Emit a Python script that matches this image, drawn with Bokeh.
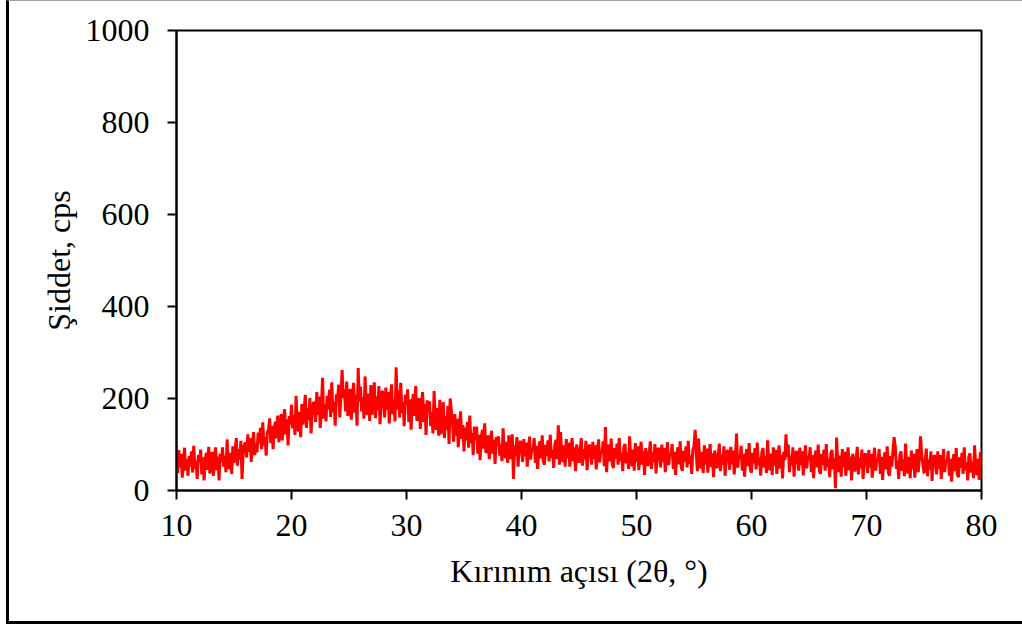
import numpy as np
from bokeh.plotting import figure
from bokeh.models import Range1d, FixedTicker, ColumnDataSource
from bokeh.embed import file_html
from bokeh.resources import INLINE

# scan settings (2-theta, degrees)
scan_start = 10.0
scan_step = 0.1

# intensity (cps), one row per degree
intensity = [
    70, 38, 88, 50, 80, 28, 63, 93, 43, 68,
    32, 75, 52, 85, 39, 97, 47, 65, 25, 77,
    62, 89, 35, 72, 22, 67, 82, 45, 95, 37,
    50, 84, 32, 66, 94, 44, 74, 22, 80, 62,
    94, 52, 76, 40, 111, 60, 46, 82, 36, 96,
    60, 86, 114, 54, 90, 68, 108, 25, 82, 100,
    104, 72, 122, 84, 114, 62, 97, 127, 77, 102,
    83, 126, 103, 136, 90, 148, 98, 116, 76, 128,
    130, 157, 103, 140, 90, 135, 150, 113, 163, 105,
    129, 166, 109, 147, 177, 122, 155, 98, 162, 142,
    186, 135, 164, 121, 206, 145, 128, 171, 116, 188,
    143, 175, 208, 136, 179, 153, 201, 124, 170, 191,
    191, 149, 214, 165, 204, 136, 182, 245, 156, 188,
    150, 206, 176, 219, 160, 235, 170, 193, 141, 209,
    195, 230, 159, 208, 262, 201, 220, 172, 237, 162,
    177, 221, 154, 198, 234, 169, 208, 141, 266, 193,
    226, 172, 203, 156, 248, 182, 164, 211, 151, 229,
    165, 198, 235, 157, 204, 175, 227, 144, 193, 217,
    201, 159, 224, 175, 214, 146, 192, 231, 166, 198,
    150, 268, 176, 218, 159, 234, 169, 192, 140, 208,
    185, 220, 149, 198, 132, 191, 210, 162, 227, 152,
    157, 201, 134, 178, 214, 149, 188, 121, 196, 173,
    194, 140, 171, 124, 216, 150, 132, 179, 119, 197,
    122, 155, 192, 114, 161, 132, 184, 101, 200, 174,
    144, 106, 166, 120, 156, 94, 136, 172, 112, 142,
    85, 137, 109, 149, 93, 163, 103, 125, 77, 139,
    110, 139, 80, 121, 66, 115, 132, 91, 146, 82,
    86, 120, 68, 102, 130, 80, 110, 58, 116, 98,
    118, 76, 100, 64, 135, 84, 70, 106, 60, 120,
    68, 94, 122, 25, 98, 76, 116, 52, 90, 108,
    94, 62, 112, 74, 104, 52, 87, 117, 67, 92,
    87, 114, 60, 97, 47, 92, 107, 70, 120, 62,
    56, 99, 76, 109, 63, 121, 71, 89, 49, 101,
    110, 68, 142, 56, 127, 76, 62, 98, 52, 112,
    70, 104, 52, 86, 114, 64, 94, 42, 100, 82,
    60, 86, 114, 54, 90, 68, 108, 44, 82, 100,
    88, 56, 106, 68, 98, 46, 81, 111, 61, 86,
    80, 107, 53, 138, 40, 85, 100, 63, 113, 55,
    49, 92, 69, 102, 56, 114, 64, 82, 42, 94,
    101, 59, 83, 47, 118, 67, 53, 89, 43, 103,
    62, 96, 44, 78, 106, 56, 86, 34, 92, 74,
    53, 79, 107, 47, 83, 61, 101, 37, 75, 93,
    82, 50, 100, 62, 92, 40, 75, 105, 55, 80,
    74, 101, 47, 84, 34, 79, 94, 57, 107, 49,
    43, 86, 63, 96, 50, 108, 58, 76, 36, 88,
    96, 132, 78, 42, 113, 62, 48, 84, 38, 98,
    57, 91, 39, 73, 101, 51, 81, 29, 87, 69,
    48, 74, 102, 42, 78, 56, 96, 32, 70, 88,
    77, 45, 95, 57, 87, 35, 70, 124, 50, 75,
    70, 97, 43, 80, 30, 75, 90, 53, 103, 45,
    39, 82, 59, 92, 46, 104, 54, 72, 32, 84,
    92, 50, 74, 38, 109, 58, 44, 80, 34, 94,
    54, 88, 36, 70, 98, 48, 78, 26, 84, 66,
    122, 72, 100, 40, 76, 54, 94, 30, 68, 86,
    75, 43, 93, 55, 85, 33, 68, 98, 48, 73,
    67, 94, 40, 77, 27, 72, 87, 50, 100, 42,
    36, 79, 56, 89, 43, 101, 51, 69, 29, 81,
    88, 46, 70, 5, 115, 54, 40, 76, 30, 90,
    50, 84, 32, 66, 94, 44, 74, 22, 80, 62,
    41, 67, 95, 35, 71, 49, 89, 25, 63, 81,
    70, 38, 88, 50, 80, 28, 63, 93, 43, 68,
    63, 90, 36, 73, 23, 68, 83, 46, 96, 38,
    32, 75, 52, 85, 116, 97, 47, 65, 25, 77,
    85, 43, 67, 31, 102, 51, 37, 73, 27, 87,
    46, 80, 28, 62, 90, 40, 70, 118, 76, 58,
    37, 63, 91, 31, 67, 45, 85, 21, 59, 77,
    67, 35, 85, 47, 77, 25, 60, 90, 40, 65,
    59, 86, 32, 69, 19, 64, 79, 42, 92, 34,
    29, 72, 49, 82, 36, 94, 44, 62, 22, 74,
    81, 39, 63, 27, 98, 47, 33, 69, 23, 83,
    55,
]

x_ticks = [10, 20, 30, 40, 50, 60, 70, 80]
y_ticks = [0, 200, 400, 600, 800, 1000]
x_title = "Kırınım açısı (2θ, °)"
y_title = "Şiddet, cps"

two_theta = scan_start + scan_step * np.arange(len(intensity))
src = ColumnDataSource(dict(x=two_theta, y=intensity))

FONT = "Liberation Serif"

p = figure(frame_width=805, frame_height=460,
           x_range=Range1d(10, 80), y_range=Range1d(0, 1000),
           min_border_left=176, min_border_right=41,
           min_border_top=30, min_border_bottom=137,
           output_backend="svg", toolbar_location=None)

p.line("x", "y", source=src, line_color="#ff0000", line_width=3)

p.xgrid.visible = False
p.ygrid.visible = False
p.outline_line_color = "black"
p.outline_line_width = 2
p.background_fill_color = "white"
p.border_fill_color = "white"

p.xaxis.ticker = FixedTicker(ticks=x_ticks)
p.yaxis.ticker = FixedTicker(ticks=y_ticks)
p.xaxis.axis_label = x_title
p.yaxis.axis_label = y_title

for ax in (p.xaxis, p.yaxis):
    ax.axis_line_color = "black"
    ax.axis_line_width = 2
    ax.major_tick_line_color = "black"
    ax.major_tick_line_width = 2
    ax.major_tick_out = 9
    ax.major_tick_in = 0
    ax.minor_tick_line_color = None
    ax.major_label_text_font = FONT
    ax.major_label_text_font_size = "32px"
    ax.major_label_text_color = "black"
    ax.axis_label_text_font = FONT
    ax.axis_label_text_font_size = "32px"
    ax.axis_label_text_font_style = "normal"
    ax.axis_label_text_color = "black"

p.yaxis.major_label_standoff = 18
p.yaxis.axis_label_standoff = 6
p.xaxis.major_label_standoff = 15
p.xaxis.axis_label_standoff = 14

html = file_html(p, INLINE)
# outer chart-area frame (decorative page border, as in the exported chart)
frame_css = ('<div style="position:fixed;left:6px;top:0;width:1100px;height:624px;'
             'box-sizing:border-box;border-left:3px solid #000;'
             'border-bottom:3px solid #000;border-top:1px solid #a0a0a0;'
             'pointer-events:none;z-index:10"></div>')
html = html.replace("</body>", frame_css + "</body>")
open("out.html", "w").write(html)
